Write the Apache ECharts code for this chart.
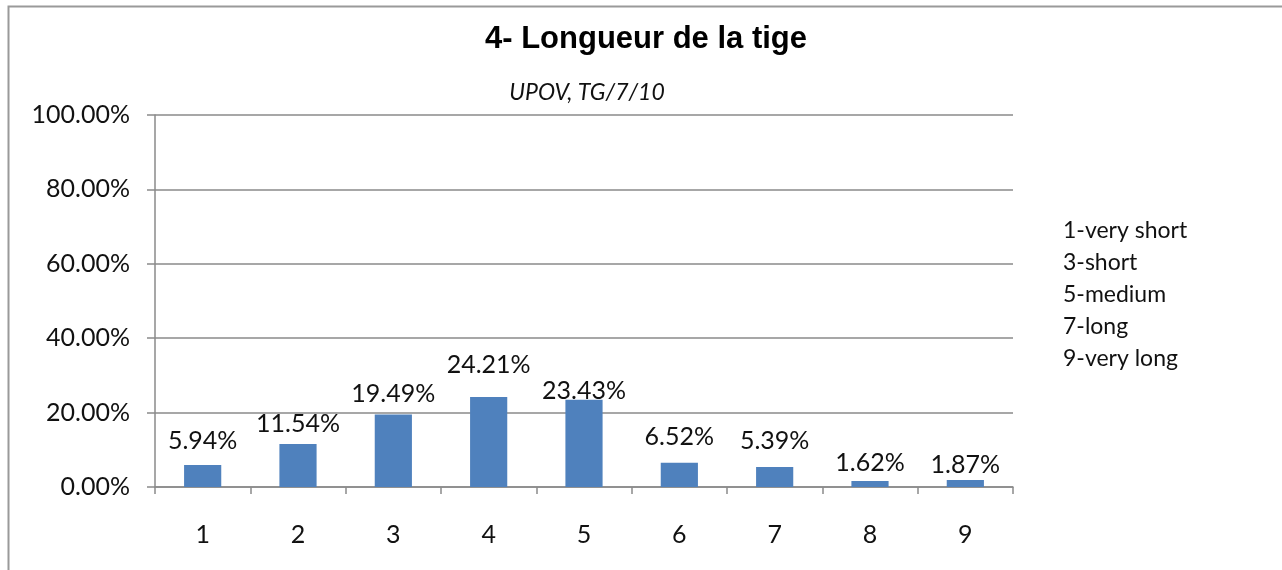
<!DOCTYPE html>
<html>
<head>
<meta charset="utf-8">
<script src="https://cdn.jsdelivr.net/npm/echarts@6/dist/echarts.min.js"></script>
<style>
  html, body { margin: 0; padding: 0; background: #fff; }
  #chart { width: 1282px; height: 570px; }
</style>
</head>
<body>
<div id="chart"></div>
<script>
    // categories and values
    var categories = ['1', '2', '3', '4', '5', '6', '7', '8', '9'];
    var percentValues = [5.94, 11.54, 19.49, 24.21, 23.43, 6.52, 5.39, 1.62, 1.87];
    var yTicks = [0, 20, 40, 60, 80, 100];
    var legendLines = ['1-very short', '3-short', '5-medium', '7-long', '9-very long'];

    var titleText = '4- Longueur de la tige';
    var subtitleText = 'UPOV, TG/7/10';

    // labels not all at same distance in the original
    var labelShift = [-3, 0, 0, -12, 12, -5, -6, 2, 5];

    var myChart = echarts.init(document.getElementById('chart'));

    var barData = [];
    percentValues.forEach(function (v, i) {
        barData.push({
            value: v,
            label: { offset: [0, labelShift[i]] }
        });
    });

    var legendGraphics = [];
    legendLines.forEach(function (t, i) {
        legendGraphics.push({
            type: 'text',
            left: 1063,
            top: 219 + i * 32,
            style: {
                text: t,
                font: '23px Lato, "Open Sans", sans-serif',
                fill: '#111'
            }
        });
    });

    myChart.setOption({
        animation: false,
        backgroundColor: '#fff',
        title: [{
            text: titleText,
            left: 641,
            textAlign: 'center',
            top: 19,
            textStyle: {
                fontFamily: '"Liberation Sans", Arial, sans-serif',
                fontWeight: 'bold',
                fontSize: 31,
                color: '#000'
            }
        }, {
            text: subtitleText,
            left: 582,
            textAlign: 'center',
            top: 76,
            textStyle: {
                fontFamily: 'Lato, "Open Sans", sans-serif',
                fontStyle: 'italic',
                fontWeight: 'normal',
                fontSize: 23,
                color: '#111'
            }
        }],
        grid: {
            left: 155,
            right: 269,
            top: 115,
            bottom: 83,
            containLabel: false
        },
        xAxis: {
            type: 'category',
            data: categories,
            axisLine: { lineStyle: { color: '#8a8a8a', width: 1.5 } },
            axisTick: { show: true, length: 7, alignWithLabel: false, lineStyle: { color: '#8a8a8a', width: 1.5 } },
            axisLabel: {
                margin: 35,
                fontFamily: 'Lato, "Open Sans", sans-serif',
                fontSize: 25,
                color: '#111'
            }
        },
        yAxis: {
            type: 'value',
            min: yTicks[0],
            max: yTicks[yTicks.length - 1],
            interval: 20,
            axisLine: { show: true, lineStyle: { color: '#8a8a8a', width: 1.5 } },
            axisTick: { show: true, length: 8, lineStyle: { color: '#8a8a8a', width: 1.5 } },
            splitLine: { lineStyle: { color: '#8a8a8a', width: 1.5 } },
            axisLabel: {
                margin: 25,
                fontFamily: 'Lato, "Open Sans", sans-serif',
                fontSize: 25,
                color: '#111',
                formatter: function (val) {
                    return val.toFixed(2) + '%';
                }
            }
        },
        series: [{
            type: 'bar',
            data: barData,
            barWidth: '39%',
            itemStyle: { color: '#4f81bd' },
            label: {
                show: true,
                position: 'top',
                distance: 8,
                fontFamily: 'Lato, "Open Sans", sans-serif',
                fontSize: 25,
                color: '#111',
                formatter: function (p) {
                    return p.value.toFixed(2) + '%';
                }
            }
        }],
        graphic: [{
            type: 'rect',
            left: 6,
            top: 4,
            shape: { width: 1400, height: 700 },
            style: { fill: 'none', stroke: '#9a9a9a', lineWidth: 2 },
            silent: true
        }].concat(legendGraphics)
    });

    window.addEventListener('resize', function () {
        myChart.resize();
    });
</script>
</body>
</html>
